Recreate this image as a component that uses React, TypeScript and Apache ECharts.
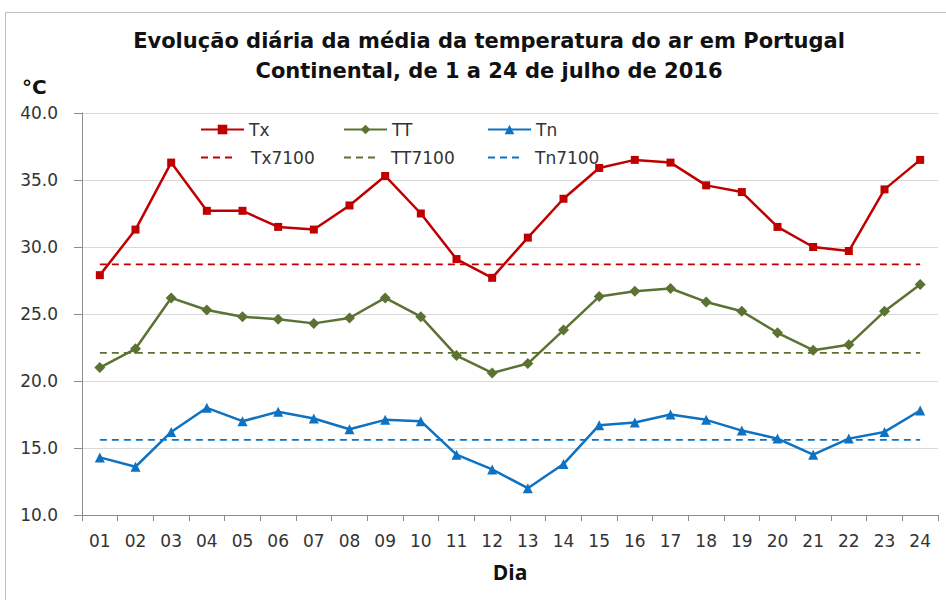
import React, { useEffect, useRef } from "react";
import * as echarts from "echarts";

const days = ["01","02","03","04","05","06","07","08","09","10","11","12","13","14","15","16","17","18","19","20","21","22","23","24"];
const tx = [27.9,31.3,36.3,32.7,32.7,31.5,31.3,33.1,35.3,32.5,29.1,27.7,30.7,33.6,35.9,36.5,36.3,34.6,34.1,31.5,30.0,29.7,34.3,36.5];
const tt = [21.0,22.4,26.2,25.3,24.8,24.6,24.3,24.7,26.2,24.8,21.9,20.6,21.3,23.8,26.3,26.7,26.9,25.9,25.2,23.6,22.3,22.7,25.2,27.2];
const tn = [14.3,13.6,16.2,18.0,17.0,17.7,17.2,16.4,17.1,17.0,14.5,13.4,12.0,13.8,16.7,16.9,17.5,17.1,16.3,15.7,14.5,15.7,16.2,17.8];
const normalNames = ["Tx7100","TT7100","Tn7100"];
const normals = [28.7, 22.1, 15.6];

const RED = "#C00000";
const GREEN = "#5B7233";
const BLUE = "#0E72C2";
const FONT = "'DejaVu Sans', sans-serif";
const BFONT = "'Open Sans', sans-serif";
const TXT = "#333333";

export default function App() {
  const ref = useRef<HTMLDivElement>(null);
  useEffect(() => {
    if (!ref.current) return;
    const chart = echarts.init(ref.current, undefined, { renderer: "svg" });
    const lineSeries = (name: string, data: number[], color: string, symbol: string, size: number) => ({
      name, type: "line", data, symbol, symbolSize: size, showSymbol: true,
      lineStyle: { color, width: 2.5 }, itemStyle: { color }, z: 3,
    });
    const dashSeries = (i: number, color: string) => ({
      name: normalNames[i], type: "line",
      data: [[days[0], normals[i]], [days[days.length - 1], normals[i]]],
      symbol: "none", lineStyle: { color, width: 1.8, type: [7, 5] }, itemStyle: { color }, z: 2,
    });
    const legendText = { fontFamily: FONT, fontSize: 17, color: TXT };
    const mkLegend = (name: string, left: number, top: number, w: number, pad: number, dashed: boolean) => ({
      data: [name], left, top, itemWidth: w, itemHeight: 12, padding: 0,
      textStyle: { ...legendText, padding: [0, 0, 0, pad] }, selectedMode: false,
      ...(dashed ? { itemStyle: { opacity: 0 } } : {}),
    });
    chart.setOption({
      animation: false,
      backgroundColor: "#ffffff",
      title: {
        text: "Evolução diária da média da temperatura do ar em Portugal\nContinental, de 1 a 24 de julho de 2016",
        left: 484, top: 21, textAlign: "center",
        textStyle: { fontFamily: FONT, fontSize: 21, fontWeight: "bold", color: "#111111", lineHeight: 30 },
      },
      legend: [
        mkLegend("Tx", 200, 121, 43, 0, false),
        mkLegend("TT", 343, 121, 43, 0, false),
        mkLegend("Tn", 487, 121, 43, 0, false),
        mkLegend("Tx7100", 200, 149, 35, 10, true),
        mkLegend("TT7100", 343, 149, 35, 7, true),
        mkLegend("Tn7100", 487, 149, 35, 7, true),
      ],
      grid: { left: 82, right: 8, top: 113, bottom: 85 },
      xAxis: {
        type: "category", data: days, boundaryGap: true,
        name: "Dia", nameLocation: "middle", nameGap: 46,
        nameTextStyle: { fontFamily: BFONT, fontSize: 21, fontWeight: "bold", color: "#111111" },
        axisLine: { lineStyle: { color: "#8C8C8C" } },
        axisTick: { show: true, length: 6, lineStyle: { color: "#8C8C8C" } },
        axisLabel: { fontFamily: FONT, fontSize: 17, color: TXT, margin: 17 },
      },
      yAxis: {
        type: "value", min: 10, max: 40, interval: 5,
        axisLine: { show: true, lineStyle: { color: "#8C8C8C" } },
        axisTick: { show: true, length: 8, lineStyle: { color: "#8C8C8C" } },
        axisLabel: { fontFamily: FONT, fontSize: 17, color: TXT, margin: 24, formatter: (v: number) => v.toFixed(1) },
        splitLine: { lineStyle: { color: "#D9D9D9" } },
      },
      graphic: [
        { type: "rect", shape: { x: 5.5, y: 12.5, width: 1200, height: 1200 }, style: { fill: "none", stroke: "#BFBFBF", lineWidth: 1 }, silent: true },
        { type: "text", x: 22, y: 77, style: { text: "°C", fontFamily: FONT, fontSize: 20, fontWeight: "bold", fill: "#111111" } },
      ],
      series: [
        lineSeries("Tx", tx, RED, "rect", 8),
        lineSeries("TT", tt, GREEN, "diamond", 11),
        lineSeries("Tn", tn, BLUE, "triangle", 10),
        dashSeries(0, RED),
        dashSeries(1, GREEN),
        dashSeries(2, BLUE),
      ],
    });
    return () => chart.dispose();
  }, []);
  return <div ref={ref} style={{ position: "fixed", left: 0, top: 0, width: 946, height: 600, background: "#fff" }} />;
}
